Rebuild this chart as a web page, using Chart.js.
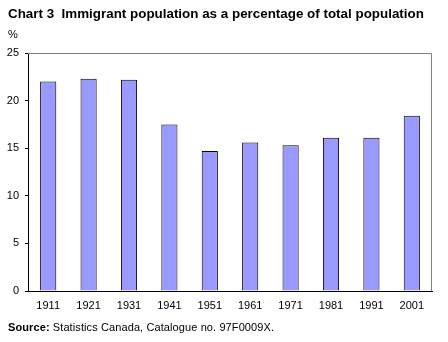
<!DOCTYPE html>
<html>
<head>
<meta charset="utf-8">
<script src="https://cdn.jsdelivr.net/npm/chart.js@4.4.0/dist/chart.umd.min.js"></script>
<style>
  body { margin: 0; background: #fff; font-family: "Liberation Sans", Arial, sans-serif; }
  #wrap { position: relative; width: 448px; height: 342px; }
  #title { position: absolute; left: 8px; top: 6px; font-size: 13.4px; font-weight: bold; color: #000; white-space: nowrap; }
  #unit { position: absolute; left: 8px; top: 28px; font-size: 11px; color: #000; }
  #source { position: absolute; left: 8px; top: 321px; font-size: 11px; color: #000; white-space: nowrap; letter-spacing: 0.1px; }
  canvas { position: absolute; left: 0; top: 0; }
</style>
</head>
<body>
<div id="wrap">
  <canvas id="chart" width="448" height="342"></canvas>
  <div id="title">Chart 3&nbsp; Immigrant population as a percentage of total population</div>
  <div id="unit">%</div>
  <div id="source"><b>Source:</b> Statistics Canada, Catalogue no. 97F0009X.</div>
</div>
<script>
const years = ["1911", "1921", "1931", "1941", "1951", "1961", "1971", "1981", "1991", "2001"];
const immigrantShare = [22.0, 22.3, 22.2, 17.5, 14.7, 15.6, 15.3, 16.1, 16.1, 18.4];
const yTicks = [0, 5, 10, 15, 20, 25];

// gray frame on top and right of the plot area, like the original
const frame = {
  id: "frame",
  beforeDatasetsDraw(chart) {
    const { ctx, chartArea: a } = chart;
    ctx.save();
    ctx.strokeStyle = "#808080";
    ctx.lineWidth = 1;
    ctx.beginPath();
    ctx.moveTo(a.left, a.top + 0.5);
    ctx.lineTo(a.right - 0.5, a.top + 0.5);
    ctx.lineTo(a.right - 0.5, a.bottom);
    ctx.stroke();
    ctx.restore();
  }
};

new Chart(document.getElementById("chart"), {
  type: "bar",
  data: {
    labels: years,
    datasets: [{
      data: immigrantShare,
      backgroundColor: "#9999FF",
      borderColor: "#000",
      borderWidth: 1,
      borderSkipped: "bottom",
      categoryPercentage: 1,
      barPercentage: 0.4
    }]
  },
  options: {
    responsive: false,
    animation: false,
    layout: { padding: { left: 0, top: 53, right: 16, bottom: 0 } },
    plugins: { legend: { display: false }, tooltip: { enabled: false } },
    scales: {
      x: {
        grid: { drawOnChartArea: false, drawTicks: false },
        border: { color: "#000", width: 1 },
        ticks: { color: "#000", font: { family: "Liberation Sans", size: 11 }, padding: 8, maxRotation: 0 },
        afterFit(s) { s.height = 51; }
      },
      y: {
        min: 0, max: 25,
        grid: { drawOnChartArea: false, drawTicks: true, tickLength: 3, color: "#000" },
        border: { color: "#000", width: 1 },
        afterBuildTicks(s) { s.ticks = yTicks.map(v => ({ value: v })); },
        ticks: { color: "#000", font: { family: "Liberation Sans", size: 11 }, padding: 6 },
        afterFit(s) { s.width = 28; }
      }
    }
  },
  plugins: [frame]
});
</script>
</body>
</html>
